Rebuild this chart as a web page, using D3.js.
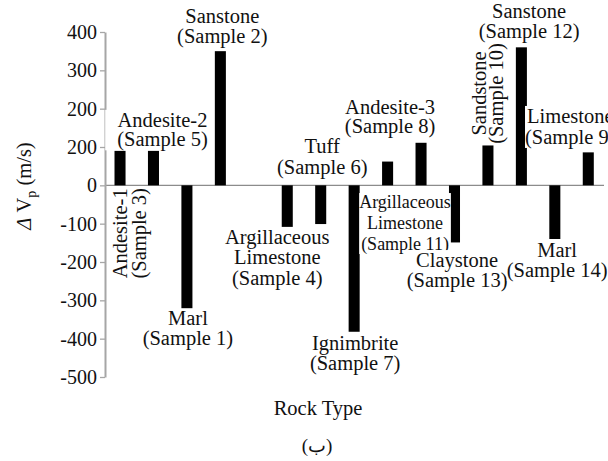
<!DOCTYPE html>
<html>
<head>
<meta charset="utf-8">
<script src="https://cdn.jsdelivr.net/npm/d3@7/dist/d3.min.js"></script>
<style>
  html, body { margin: 0; padding: 0; background: #fff; }
  svg { display: block; }
  text { font-family: "Liberation Serif", "Times New Roman", serif; fill: #111; }
</style>
</head>
<body>
<svg id="chart" width="608" height="461"></svg>
<script>
// Velocity change per rock sample, in axis order (one empty slot after Sample 2)
const categories = ["Sample 3", "Sample 5", "Sample 1", "Sample 2", "", "Sample 4", "Sample 6",
  "Sample 7", "Sample 8", "Sample 11", "Sample 13", "Sample 10", "Sample 12", "Sample 14", "Sample 9"];
const deltaVp = [90, 90, -344, 350, null, -111, -101, -382, 62, 111, -149, 104, 360, -140, 86];
const rockTypes = ["Andesite-1", "Andesite-2", "Marl", "Sanstone", null, "Argillaceous Limestone", "Tuff",
  "Ignimbrite", "Andesite-3", "Argillaceous Limestone", "Claystone", "Sandstone", "Sanstone", "Marl", "Limestone"];

const yTicks = [400, 300, 200, 100, 0, -100, -200, -300, -400, -500];
const yTickLabels = ["400", "300", "200", "200", "0", "-100", "-200", "-300", "-400", "-500"];

// Label placement: offsets from the bar end ("end") or from the zero line ("zero")
const labelLayout = [
  { anchor: "zero", dx: 0, dy: 48, rotate: true, lines: [7, 26] },
  { anchor: "end", dx: 9, dy: -24, lead: 19.5, padL: 12 },
  { anchor: "end", dx: 1, dy: 8, lead: 20 },
  { anchor: "end", dx: 2, dy: -28, lead: 20 },
  null,
  { anchor: "end", dx: -10, dy: 16, lead: 20.5 },
  { anchor: "zero", dx: 1.5, dy: -32.3, lead: 21 },
  { anchor: "end", dx: 1, dy: 18, lead: 20 },
  { anchor: "end", dx: 2.5, dy: -47.6, lead: 19.5 },
  { anchor: "zero", dx: -16, dy: 22.7, lead: 21, size: 18 },
  { anchor: "end", dx: 2.6, dy: 24.6, lead: 20 },
  { anchor: "end", dx: 0, dy: -52, rotate: true, lines: [-2, 15.5] },
  { anchor: "end", dx: 7.7, dy: -29.3, lead: 19.5 },
  { anchor: "end", dx: 2.3, dy: 18, lead: 20 },
  { anchor: "end", dx: -18, dy: -29.4, lead: 21 }
];

const svg = d3.select("#chart");
svg.append("rect").attr("width", 608).attr("height", 461).attr("fill", "#fff");

const x = d3.scalePoint().domain(categories).range([103.3, 605]).padding(0.5);
const y = d3.scaleLinear().domain([-500, 400]).range([377, 32]);
const barW = x.step() * 0.33;

// zero line
svg.append("line")
  .attr("x1", 105).attr("x2", 604)
  .attr("y1", y(0)).attr("y2", y(0))
  .attr("stroke", "#8c8c8c").attr("stroke-width", 1.3);

// bars
const rows = categories.map((c, i) => ({ c, v: deltaVp[i], name: rockTypes[i], layout: labelLayout[i] }))
  .filter(d => d.v !== null);

svg.append("g").selectAll("rect")
  .data(rows)
  .join("rect")
  .attr("x", d => x(d.c) - barW / 2)
  .attr("width", barW)
  .attr("y", d => y(Math.max(0, d.v)))
  .attr("height", d => Math.abs(y(d.v) - y(0)))
  .attr("fill", "#000");

// y axis
const yAxis = d3.axisLeft(y)
  .tickValues(yTicks)
  .tickFormat((d, i) => yTickLabels[i])
  .tickSize(5)
  .tickSizeOuter(0)
  .tickPadding(3);

const gy = svg.append("g").attr("transform", "translate(105,0)").call(yAxis);
gy.select(".domain").attr("stroke", "#a6a6a6").attr("stroke-width", 2);
gy.selectAll(".tick line").attr("stroke", "#a6a6a6").attr("stroke-width", 1.3);
gy.selectAll(".tick text")
  .attr("font-family", "Liberation Serif, Times New Roman, serif")
  .attr("font-size", 20).attr("fill", "#111");

// y axis title
const yt = svg.append("text")
  .attr("transform", "translate(31,186) rotate(-90)")
  .attr("text-anchor", "middle")
  .attr("font-size", 20.5);
yt.append("tspan").attr("font-style", "italic").text("\u0394");
yt.append("tspan").text(" V");
yt.append("tspan").attr("font-size", 14).attr("dy", 5).text("p");
yt.append("tspan").attr("dy", -5).text(" (m/s)");

// x axis title and panel tag
svg.append("text").attr("x", 318).attr("y", 415).attr("text-anchor", "middle")
  .attr("font-size", 20.5).text("Rock Type");
svg.append("text").attr("x", 317).attr("y", 452).attr("text-anchor", "middle")
  .attr("font-family", "Liberation Serif, DejaVu Sans, serif")
  .attr("font-size", 19).text("(\u0628)");

// bar annotations on white boxes
const labels = svg.append("g");
rows.forEach(d => {
  const L = d.layout;
  const lines = (d.name === "Argillaceous Limestone" ? ["Argillaceous", "Limestone"] : [d.name])
    .concat(["(" + d.c + ")"]);
  const ax = x(d.c) + L.dx;
  const ay = (L.anchor === "zero" ? y(0) : y(d.v)) + L.dy;
  const size = L.size || 20.5;
  const g = labels.append("g");
  const t = g.append("text").attr("text-anchor", "middle").attr("font-size", size);
  if (L.rotate) {
    g.attr("transform", `translate(${ax},${ay}) rotate(-90)`);
    lines.forEach((s, k) => t.append("tspan").attr("x", 0).attr("y", L.lines[k]).text(s));
  } else {
    lines.forEach((s, k) => t.append("tspan").attr("x", ax).attr("y", ay + k * L.lead).text(s));
  }
  const bb = t.node().getBBox();
  const padL = L.padL || 0;
  g.insert("rect", "text")
    .attr("x", bb.x - padL).attr("y", bb.y + 1)
    .attr("width", bb.width + padL).attr("height", bb.height - 2)
    .attr("fill", "#fff");
});
</script>
</body>
</html>
